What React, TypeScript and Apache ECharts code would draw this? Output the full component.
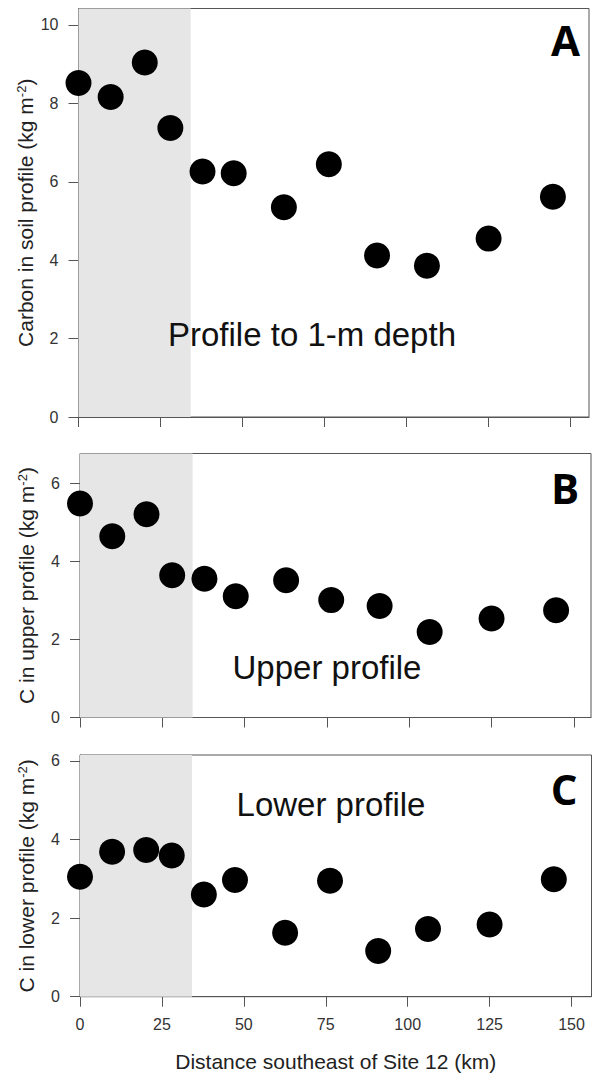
import React, { useEffect, useRef } from "react";
import * as echarts from "echarts";

// Distance southeast of Site 12 (km)
const distanceKm = [0, 9.8, 20.2, 28, 37.8, 47.3, 62.6, 76.3, 91, 106.2, 125, 144.6];
// Carbon (kg m-2)
const carbonTotal = [8.52, 8.16, 9.04, 7.37, 6.26, 6.22, 5.35, 6.45, 4.12, 3.86, 4.55, 5.62];
const carbonUpper = [5.49, 4.65, 5.21, 3.65, 3.56, 3.11, 3.52, 3.01, 2.86, 2.19, 2.54, 2.75];
const carbonLower = [3.05, 3.69, 3.73, 3.59, 2.6, 2.97, 1.63, 2.95, 1.16, 1.72, 1.84, 2.99];

const xTicks = [0, 25, 50, 75, 100, 125, 150];
const yTicksA = [0, 2, 4, 6, 8, 10];
const yTicksBC = [0, 2, 4, 6];
const shadedKm = [0, 34.2];

const xMax = [155.6, 155.2, 156.1];
const yMax = [10.42, 6.77, 6.15];

const panelLetters = ["A", "B", "C"];
const panelNotes = ["Profile to 1-m depth", "Upper profile", "Lower profile"];
const yTitleStems = ["Carbon in soil profile (kg m", "C in upper profile (kg m", "C in lower profile (kg m"];
const xTitle = "Distance southeast of Site 12 (km)";

const FONT = "Liberation Sans";

export default function App() {
  const ref = useRef<HTMLDivElement>(null);

  useEffect(() => {
    if (!ref.current) return;
    const chart = echarts.init(ref.current, undefined, { renderer: "svg" });

    const grids = [
      { left: 78.5, top: 8.5, width: 510.5, height: 408.5 },
      { left: 80, top: 453.5, width: 511, height: 264 },
      { left: 80, top: 755, width: 511.5, height: 241.7 },
    ];
    const series = [carbonTotal, carbonUpper, carbonLower];
    const yTicks = [yTicksA, yTicksBC, yTicksBC];

    const notePos = [
      [312, 334],
      [327, 667],
      [331, 804],
    ];
    const letterPos = [
      [565.5, 39],
      [565, 487],
      [564, 788],
    ];

    const option: any = {
      animation: false,
      backgroundColor: "#fff",
      grid: grids.map((g) => ({
        ...g,
        show: true,
        borderColor: "#555",
        borderWidth: 1,
        backgroundColor: "transparent",
      })),
      xAxis: grids.map((_, i) => ({
        type: "value",
        gridIndex: i,
        min: 0,
        max: xMax[i],
        name: i === 2 ? xTitle : "",
        nameLocation: "middle",
        nameGap: 54,
        nameMoveOverlap: false,
        nameTextStyle: { fontFamily: FONT, fontSize: 21, color: "#222" },
        axisLine: { show: true, lineStyle: { color: "#555", width: 1 } },
        axisTick: { show: true, length: 10, customValues: xTicks, lineStyle: { color: "#555" } },
        axisLabel: {
          show: i === 2,
          customValues: xTicks,
          margin: 20,
          fontFamily: FONT,
          fontSize: 16,
          color: "#333",
        },
        splitLine: { show: false },
      })),
      yAxis: grids.map((_, i) => ({
        type: "value",
        gridIndex: i,
        min: 0,
        max: yMax[i],
        name: `${yTitleStems[i]}{s|-2})`,
        nameLocation: "middle",
        nameGap: 43,
        nameMoveOverlap: false,
        nameTextStyle: {
          fontFamily: FONT,
          fontSize: 21,
          color: "#222",
          rich: {
            s: { fontFamily: FONT, fontSize: 13, color: "#222", verticalAlign: "top" },
          },
        },
        axisLine: { show: true, lineStyle: { color: "#555", width: 1 } },
        axisTick: { show: true, length: 10, customValues: yTicks[i], lineStyle: { color: "#555" } },
        axisLabel: {
          customValues: yTicks[i],
          margin: 20,
          fontFamily: FONT,
          fontSize: 16,
          color: "#333",
        },
        splitLine: { show: false },
      })),
      series: series.map((vals, i) => ({
        type: "scatter",
        xAxisIndex: i,
        yAxisIndex: i,
        symbol: "circle",
        symbolSize: 26,
        itemStyle: { color: "#000", opacity: 1 },
        data: distanceKm.map((d, k) => [d, vals[k]]),
        markArea: {
          silent: true,
          itemStyle: { color: "#e6e6e6", opacity: 1 },
          data: [[{ xAxis: shadedKm[0] }, { xAxis: shadedKm[1] }]],
        },
        z: 3,
      })),
      graphic: [
        ...panelNotes.map((t, i) => ({
          type: "text",
          x: notePos[i][0],
          y: notePos[i][1],
          z: 10,
          style: {
            text: t,
            fontFamily: FONT,
            fontSize: 33,
            fill: "#111",
            textAlign: "center",
            textVerticalAlign: "middle",
          },
        })),
        ...panelLetters.map((t, i) => ({
          type: "text",
          x: letterPos[i][0],
          y: letterPos[i][1],
          z: 10,
          style: {
            text: t,
            fontFamily: "Open Sans",
            fontWeight: "bold",
            fontSize: 42,
            fill: "#000",
            textAlign: "center",
            textVerticalAlign: "middle",
          },
        })),
      ],
    };

    chart.setOption(option);
    return () => chart.dispose();
  }, []);

  return (
    <div
      ref={ref}
      style={{ position: "absolute", left: 0, top: 0, width: 594, height: 1073 }}
    />
  );
}
